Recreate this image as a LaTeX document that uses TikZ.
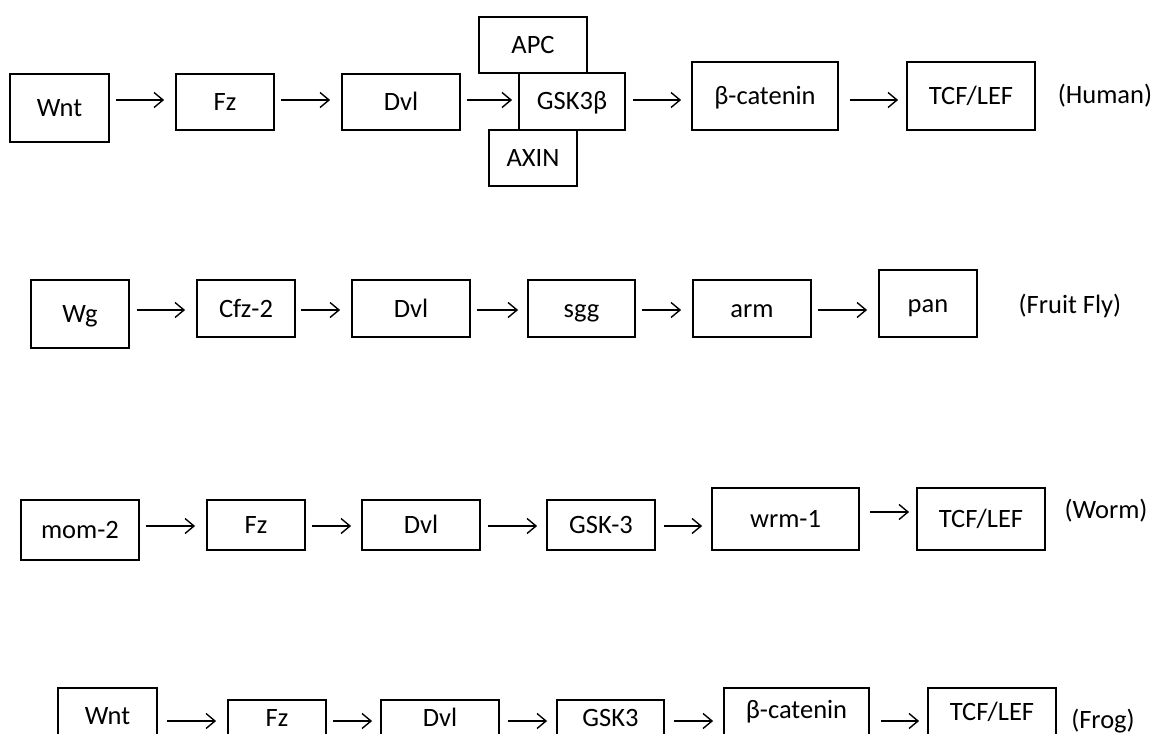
\documentclass[tikz,border=0pt]{standalone}
\usepackage{fontspec}
\setmainfont{Carlito}
\usetikzlibrary{arrows.meta,calc}
\tikzset{
  box/.style={draw, line width=1.8pt, inner sep=0pt, text height=21pt, text depth=4pt, font=\fontsize{26.5}{30}\selectfont},
  cutbox/.style={box, anchor=north, inner ysep=0pt, text depth=30pt},
  orgtext/.style={inner sep=0pt, font=\fontsize{26.5}{30}\selectfont},
  arr/.style={line width=1.4pt, -{Straight Barb[length=9pt,width=15pt,line width=1.4pt]}}
}
\newcommand\conn[5]{\draw[arr] ($(#1.east |- 0,#3)+(#4,0)$) -- ($(#2.west |- 0,#3)+(-#5,0)$);}
\begin{document}
\begin{tikzpicture}[x=1pt,y=-1pt]
\fill[white] (0,0) rectangle (1161,733);
\useasboundingbox (0,0) rectangle (1161,733);
\clip (0,0) rectangle (1161,733);
% Row 1: Human
\node[box, minimum width=99pt, minimum height=68pt] (h1) at (59.5,108) {Wnt};
\node[box, minimum width=98pt, minimum height=56pt] (h2) at (225,102) {Fz};
\node[box, minimum width=118pt, minimum height=56pt] (h3) at (401,102) {Dvl};
\node[box, minimum width=108pt, minimum height=56pt] (apc) at (533,45) {APC};
\node[box, minimum width=106pt, minimum height=57pt] (h4) at (572,101.5) {GSK3β};
\node[box, minimum width=88pt, minimum height=56pt] (axin) at (533,158) {AXIN};
\node[box, minimum width=146pt, minimum height=68pt] (h5) at (765,96) {β-catenin};
\node[box, minimum width=128pt, minimum height=68pt] (h6) at (971,96) {TCF/LEF};
\node[orgtext] (human) at (1105,96) {(Human)};
\conn{h1}{h2}{100}{6}{11}
\conn{h2}{h3}{100}{6}{11}
\conn{h3}{h4}{100}{6}{6}
\conn{h4}{h5}{100}{7}{10}
\conn{h5}{h6}{100}{11}{8}
% Row 2: Fruit Fly
\node[box, minimum width=98pt, minimum height=68pt] (f1) at (80,314) {Wg};
\node[box, minimum width=98pt, minimum height=57pt] (f2) at (246,308.5) {Cfz-2};
\node[box, minimum width=118pt, minimum height=57pt] (f3) at (411,308.5) {Dvl};
\node[box, minimum width=107pt, minimum height=57pt] (f4) at (581.5,308.5) {sgg};
\node[box, minimum width=118pt, minimum height=57pt] (f5) at (752,308.5) {arm};
\node[box, minimum width=98pt, minimum height=67pt] (f6) at (928,303.5) {pan};
\node[orgtext] (fly) at (1070,306) {(Fruit Fly)};
\conn{f1}{f2}{310}{7}{11}
\conn{f2}{f3}{310}{5}{11}
\conn{f3}{f4}{310}{6}{9}
\conn{f4}{f5}{310}{6}{11}
\conn{f5}{f6}{310}{6}{11}
% Row 3: Worm
\node[box, minimum width=118pt, minimum height=60pt] (w1) at (80,530) {mom-2};
\node[box, minimum width=98pt, minimum height=50pt] (w2) at (256,525) {Fz};
\node[box, minimum width=118pt, minimum height=50pt] (w3) at (421,525) {Dvl};
\node[box, minimum width=108pt, minimum height=50pt] (w4) at (601,525) {GSK-3};
\node[box, minimum width=147pt, minimum height=62pt] (w5) at (785.5,519) {wrm-1};
\node[box, minimum width=128pt, minimum height=62pt] (w6) at (981,519) {TCF/LEF};
\node[orgtext] (worm) at (1106,511) {(Worm)};
\conn{w1}{w2}{526}{6}{11}
\conn{w2}{w3}{526}{6}{10}
\conn{w3}{w4}{526}{7}{9}
\conn{w4}{w5}{526}{8}{9}
\conn{w5}{w6}{512}{10}{7}
% Row 4: Frog
\node[cutbox, minimum width=99pt, text height=37pt] (g1) at (107.5,687) {Wnt};
\node[cutbox, minimum width=98pt, text height=26.5pt] (g2) at (277,699) {Fz};
\node[cutbox, minimum width=118pt, text height=26.5pt] (g3) at (440,699) {Dvl};
\node[cutbox, minimum width=107pt, text height=26.5pt] (g4) at (610.5,699) {GSK3};
\node[cutbox, minimum width=145pt, text height=31pt] (g5) at (796.5,687) {β-catenin};
\node[cutbox, minimum width=128pt, text height=33pt] (g6) at (992,687) {TCF/LEF};
\node[orgtext] (frog) at (1103,721) {(Frog)};
\conn{g1}{g2}{721}{9}{11}
\conn{g2}{g3}{721}{6}{8}
\conn{g3}{g4}{721}{8}{9}
\conn{g4}{g5}{721}{9}{10}
\conn{g5}{g6}{721}{11}{8}
\end{tikzpicture}
\end{document}
